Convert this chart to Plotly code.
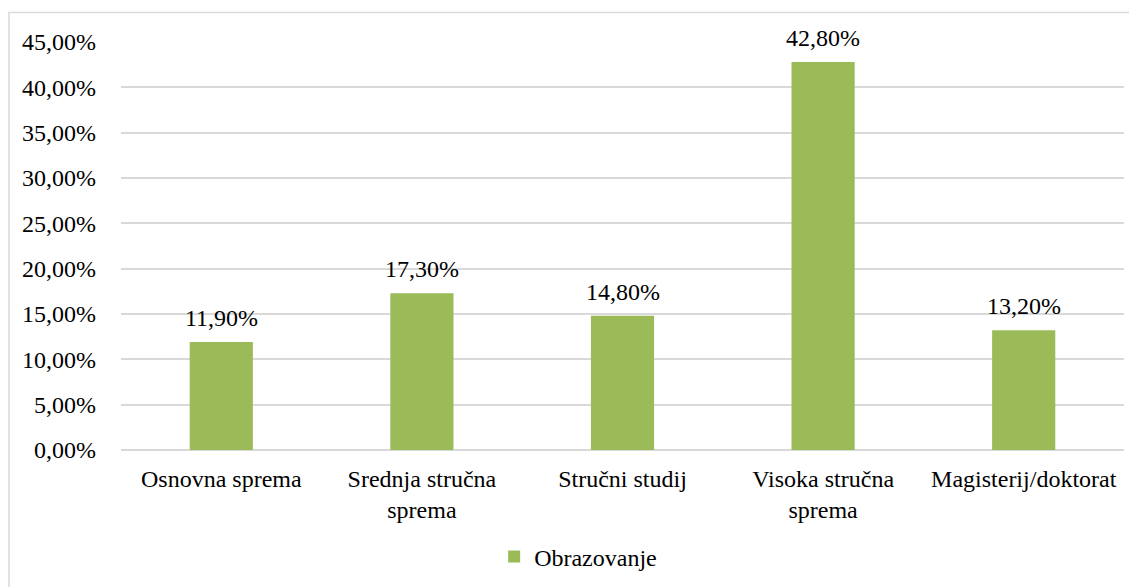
import plotly.graph_objects as go

categories = ["Osnovna sprema", "Srednja stručna<br>sprema", "Stručni studij",
              "Visoka stručna<br>sprema", "Magisterij/doktorat"]
values = [0.119, 0.173, 0.148, 0.428, 0.132]
series_name = "Obrazovanje"
tick_vals = [0, 0.05, 0.10, 0.15, 0.20, 0.25, 0.30, 0.35, 0.40, 0.45]

FONT = "Times New Roman, Liberation Serif, serif"
GREEN = "#9BBB59"
GRID = "#D9D9D9"
FS = 24

fig = go.Figure()
fig.add_trace(go.Bar(
    x=categories, y=values, name=series_name,
    marker=dict(color=GREEN, line=dict(width=0)),
    showlegend=True,
))

for c, v in zip(categories, values):
    fig.add_annotation(
        x=c, y=v, xref="x", yref="y",
        text=f"{v*100:.2f}".replace(".", ",") + "%",
        showarrow=False, yanchor="bottom", yshift=9,
        font=dict(family=FONT, size=FS, color="#000000"),
    )

# page has an 8px body margin; compensate
OFF = 8
W, H = 1137 - OFF, 587 - OFF
L, T = 121 - OFF, 42 - OFF
R = W - (1124 - OFF)
B = H - (450 - OFF)
pw, ph = W - L - R, H - T - B

def px_x(x):
    return (x - OFF - L) / pw

def px_y(y):
    return (H - B - (y - OFF)) / ph

fig.add_shape(
    type="rect", xref="paper", yref="paper",
    x0=px_x(9), x1=px_x(1160),
    y0=px_y(620), y1=px_y(12.5),
    line=dict(color=GRID, width=1.5), fillcolor="rgba(0,0,0,0)", layer="below",
)

fig.update_layout(
    width=W, height=H,
    margin=dict(l=L, r=R, t=T, b=B),
    paper_bgcolor="white", plot_bgcolor="white",
    separators=",.",
    bargap=0.685,
    font=dict(family=FONT, size=FS, color="#000000"),
    showlegend=True,
    legend=dict(
        orientation="h", xref="container", yref="container",
        x=0.505, xanchor="center", y=1 - (557 - OFF) / H, yanchor="middle",
        font=dict(family=FONT, size=FS, color="#000000"),
        itemwidth=30,
    ),
    xaxis=dict(
        showgrid=False, showline=False, zeroline=False,
        tickfont=dict(family=FONT, size=FS, color="#000000"),
        ticks="", ticklabelstandoff=12,
    ),
    yaxis=dict(
        range=[0, 0.45], tickvals=tick_vals, tickformat=".2%",
        showgrid=True, gridcolor=GRID, gridwidth=1.5,
        zeroline=True, zerolinecolor=GRID, zerolinewidth=1.5,
        showline=False, ticks="", ticklabelstandoff=24,
        tickfont=dict(family=FONT, size=FS, color="#000000"),
    ),
)

fig.write_html("out.html")
